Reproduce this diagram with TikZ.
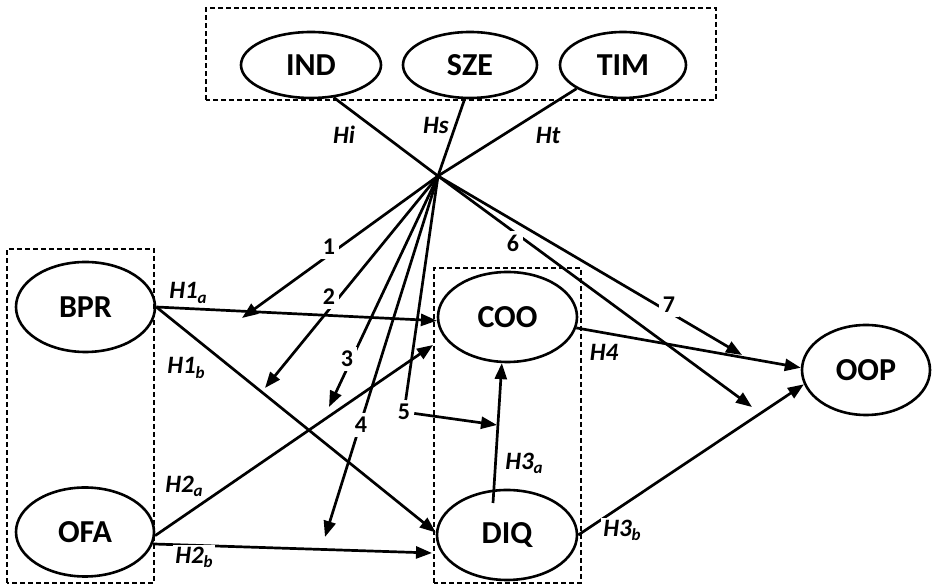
\documentclass[tikz,border=0pt]{standalone}
\usepackage{fontspec}
\setmainfont{Carlito}
\usetikzlibrary{arrows.meta,shapes.geometric}
\newcommand{\hsub}[1]{\raisebox{-0.35ex}{\fontsize{17}{17}\selectfont #1}}
\begin{document}
\begin{tikzpicture}[x=1pt,y=1pt,
  construct/.style={ellipse, draw, line width=2.6pt, inner sep=0pt,
    font=\fontsize{32}{36}\selectfont\bfseries},
  group/.style={draw, dash pattern=on 5pt off 3pt, line width=1.6pt},
  plain/.style={line width=2.7pt},
  link/.style={plain, -{Triangle[length=16pt,width=12pt]}},
  hyp/.style={font=\fontsize{25}{30}\selectfont\bfseries\itshape, inner sep=2pt},
  hypcut/.style={hyp, fill=white},
  num/.style={font=\fontsize{24}{28}\selectfont\bfseries, fill=white, inner sep=4pt}]

\useasboundingbox (0,0) rectangle (932,586);

% dashed groupings
\draw[group] (206,486) rectangle (716,578);
\draw[group] (7,3) rectangle (154,337);
\draw[group] (434,3) rectangle (581,318);

% constructs
\node[construct, minimum width=140pt, minimum height=66pt] (IND) at (311,521) {IND};
\node[construct, minimum width=134pt, minimum height=66pt] (SZE) at (470,521) {SZE};
\node[construct, minimum width=126pt, minimum height=66pt] (TIM) at (623,521) {TIM};
\node[construct, minimum width=139pt, minimum height=90pt] (BPR) at (85.5,279) {BPR};
\node[construct, minimum width=138pt, minimum height=89pt] (OFA) at (85,54) {OFA};
\node[construct, minimum width=139pt, minimum height=90pt] (COO) at (507.5,269) {COO};
\node[construct, minimum width=140pt, minimum height=90pt] (DIQ) at (507,51) {DIQ};
\node[construct, minimum width=128pt, minimum height=90pt] (OOP) at (866,216) {OOP};

% meeting point of the control paths and arrow end points
\coordinate (hub) at (438,410);
\coordinate (t1) at (242,268);
\coordinate (t2) at (265,198);
\coordinate (t3) at (329,179);
\coordinate (t4) at (325,49);
\coordinate (t5) at (497,161);
\coordinate (t6) at (752,179);
\coordinate (t7) at (742,231);
\coordinate (h2aend) at (433,241);
\coordinate (h2bend) at (432,33);
\coordinate (h3afoot) at (493,83);

% hypothesised paths
\draw[link] (BPR.east) -- (COO.183);
\draw[link] (BPR.east) -- (DIQ.178);
\draw[link] (OFA.-3) -- (h2aend);
\draw[link] (OFA.-10) -- (h2bend);
\draw[link] (h3afoot) -- (COO.-97);
\draw[link] (DIQ.east) -- (OOP.193);
\draw[link] (COO.-9) -- (OOP.178);

% control variables
\draw[plain] (IND.-55) -- (hub);
\draw[plain] (SZE.-99) -- (hub);
\draw[plain] (TIM.-153) -- (hub);

\draw[link] (hub) -- (t1);
\draw[link] (hub) -- (t2);
\draw[link] (hub) -- (t3);
\draw[link] (hub) -- (t4);
\draw[link] (hub) -- (t6);
\draw[link] (hub) -- (t7);

\node[num] (n1) at (329,339) {1};
\node[num] (n2) at (329,289) {2};
\node[num] (n3) at (347,227) {3};
\node[num] (n4) at (361,161) {4};
\node[num] (n5) at (404,174) {5};
\node[num] (n6) at (513,343) {6};
\node[num] (n7) at (669,281) {7};
\draw[plain] (hub) -- (n5);
\draw[link] (n5) -- (t5);

% path labels
\node[hyp] (lHi) at (344,451) {Hi};
\node[hyp] (lHs) at (436,461) {Hs};
\node[hyp] (lHt) at (548,451) {Ht};
\node[hypcut] (lH1a) at (188,293) {H1\hsub{a}};
\node[hypcut] (lH1b) at (186,218) {H1\hsub{b}};
\node[hypcut] (lH2a) at (184,100) {H2\hsub{a}};
\node[hypcut] (lH2b) at (194,29) {H2\hsub{b}};
\node[hypcut] (lH3a) at (524,123) {H3\hsub{a}};
\node[hypcut] (lH3b) at (622,56) {H3\hsub{b}};
\node[hypcut] (lH4) at (604,234) {H4};
\end{tikzpicture}
\end{document}
